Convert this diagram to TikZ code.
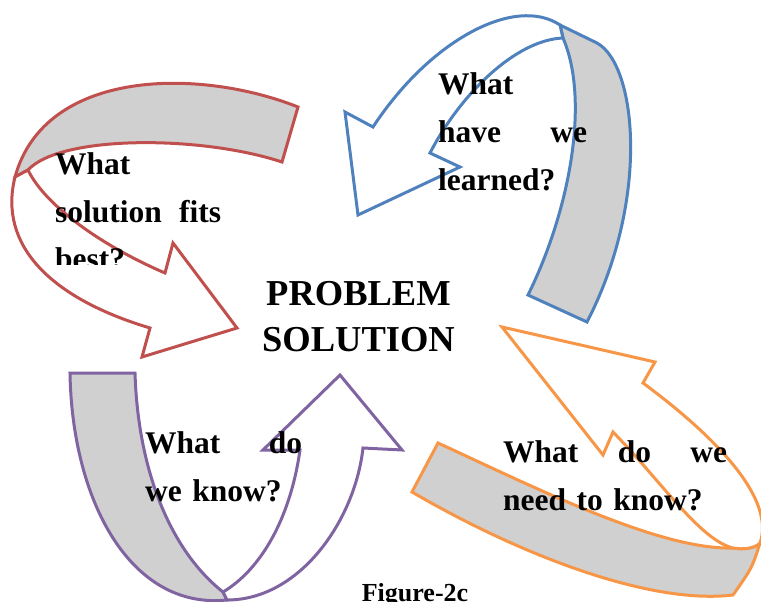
\documentclass[tikz,border=0pt]{standalone}
\usepackage{fontspec}
\setmainfont{Liberation Serif}
\definecolor{redline}{HTML}{C0504D}
\definecolor{blueline}{HTML}{4F81BD}
\definecolor{purpleline}{HTML}{8064A2}
\definecolor{orangeline}{HTML}{F79646}
\definecolor{bandgray}{HTML}{D0D0D0}

\begin{document}
\begin{tikzpicture}[x=1pt, y=-1pt,
    back/.style={fill=bandgray, line width=3pt},
    front/.style={fill=white, line width=3pt},
    question/.style={anchor=base west, inner sep=0pt,
        font=\bfseries\fontsize{31.5}{48}\selectfont}]

    \useasboundingbox (0,0) rectangle (761,602);

    % Left arrow (red)
    \draw[back, draw=redline] (298,107) .. controls (200,68) and (45,68) .. (15,177)
        -- (28,170) .. controls (60,135) and (200,135) .. (282,162) -- cycle;
    \draw[front, draw=redline] (15,177) .. controls (-2,245) and (50,298) .. (150,328)
        -- (142,357) -- (237,328) -- (173,243) -- (165,273)
        .. controls (100,245) and (45,205) .. (28,170) -- cycle;

    % Top arrow (blue)
    \draw[back, draw=blueline] (560,25) -- (597,43) .. controls (637,65) and (650,200) .. (587,322)
        -- (528,295) .. controls (570,210) and (590,100) .. (563,38) -- cycle;
    \draw[front, draw=blueline] (560,25) .. controls (515,-5) and (430,40) .. (373,127)
        -- (345,112) -- (358,215) -- (460,167) -- (430,153)
        .. controls (460,95) and (515,40) .. (563,38) -- cycle;

    % Right arrow (orange)
    \draw[back, draw=orangeline] (438,443) .. controls (540,490) and (660,550) .. (733,548)
        .. controls (745,550) and (755,548) .. (760,543) .. controls (752,568) .. (733,595)
        .. controls (650,605) and (520,555) .. (412,492) -- cycle;
    \draw[front, draw=orangeline] (760,543) .. controls (775,500) and (720,440) .. (643,383)
        -- (655,362) -- (502,327) -- (603,455) -- (613,432)
        .. controls (660,480) and (700,540) .. (733,548)
        .. controls (745,550) and (755,548) .. (760,543) -- cycle;

    % Bottom arrow (purple)
    \draw[back, draw=purpleline] (70,373) -- (135,373) .. controls (138,470) and (170,550) .. (223,592)
        -- (227,600) .. controls (130,610) and (72,500) .. (70,373) -- cycle;
    \draw[front, draw=purpleline] (227,600) .. controls (300,600) and (355,520) .. (363,448)
        -- (402,450) -- (340,375) -- (263,450) -- (300,450)
        .. controls (290,520) and (260,570) .. (223,592) -- cycle;

    % Questions
    \begin{scope}
        \clip (0,0) rectangle (761,264);
        \node[question, text width=166pt] (fits) at (55,174)
            {What\\ \makebox[\linewidth]{solution\hfill fits}\\ best?};
    \end{scope}
    \node[question, text width=149pt] (learned) at (438,95)
        {What\\ \makebox[\linewidth]{have\hfill we}\\ learned?};
    \node[question, text width=157pt] (know) at (145,453)
        {\makebox[\linewidth]{What\hfill do}\\ we know?};
    \node[question, text width=224pt] (need) at (503,462)
        {\makebox[\linewidth]{What\hfill do\hfill we}\\ need to know?};

    % Centre and caption
    \node[anchor=base, inner sep=0pt, text width=230pt, align=center,
        font=\bfseries\fontsize{36.5}{46}\selectfont] (problem) at (358.5,305) {PROBLEM\\ SOLUTION};
    \node[anchor=base, inner sep=0pt, font=\bfseries\fontsize{26}{30}\selectfont] (caption)
        at (415,601) {Figure-2c};

\end{tikzpicture}
\end{document}
